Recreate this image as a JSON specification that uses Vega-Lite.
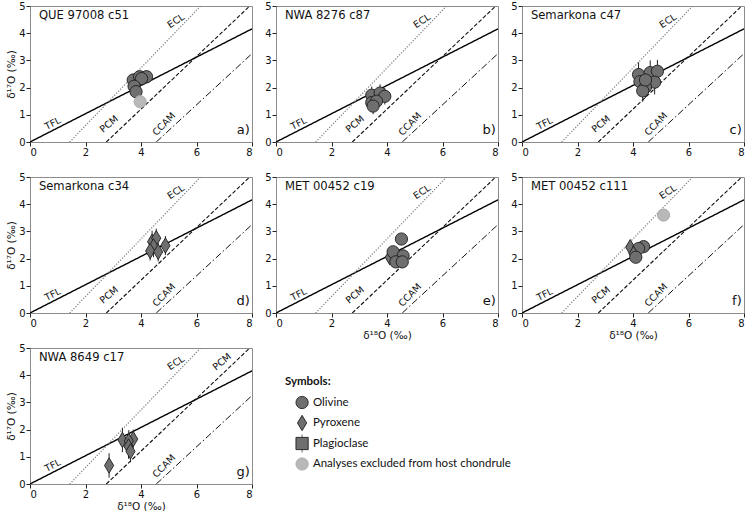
{
"$schema":"https://vega.github.io/schema/vega-lite/v6.json",
"background":"white",
"padding":{"left":6,"top":0,"right":2,"bottom":2},
"config":{
 "font":"DejaVu Sans",
 "view":{"stroke":"#8c8c8c","strokeWidth":1},
 "axis":{"grid":false,"domain":false,"tickColor":"#222","tickSize":4,"labelFontSize":10,"labelColor":"#111","labelFont":"DejaVu Sans","labelPadding":1,"titleFont":"DejaVu Sans","titleFontSize":10.5,"titleFontWeight":"normal","titleColor":"#111","titlePadding":2},
 "axisX":{"tickCount":4},
 "axisY":{"tickCount":5},
 "text":{"font":"DejaVu Sans","color":"#111"}
},
"datasets":{
 "one":[{"k":1}],
 "lines":[
  {"line":"TFL","x":0,"y":0},{"line":"TFL","x":8,"y":4.16},
  {"line":"ECL","x":1.43,"y":0},{"line":"ECL","x":6.15,"y":5},
  {"line":"PCM","x":2.75,"y":0},{"line":"PCM","x":7.92,"y":5},
  {"line":"CCAM","x":4.55,"y":0},{"line":"CCAM","x":8,"y":3.25}
 ],
 "labels":[
  {"line":"TFL","x":0.82,"y":0.68},{"line":"ECL","x":5.26,"y":4.45},{"line":"PCM","x":2.85,"y":0.66},{"line":"CCAM","x":4.83,"y":0.66}
 ],
 "labelsG":[
  {"line":"TFL","x":0.82,"y":0.68},{"line":"ECL","x":5.26,"y":4.45},{"line":"PCM","x":6.92,"y":4.49},{"line":"CCAM","x":4.83,"y":0.66}
 ],
 "pts":[
  {"p":"a","m":"Olivine","x":3.72,"y":2.28,"ey":0.12},
  {"p":"a","m":"Olivine","x":3.95,"y":2.4,"ey":0.12},
  {"p":"a","m":"Olivine","x":4.2,"y":2.4,"ey":0.12},
  {"p":"a","m":"Olivine","x":4.02,"y":2.33,"ey":0.12},
  {"p":"a","m":"Olivine","x":3.75,"y":2.05,"ey":0.12},
  {"p":"a","m":"Olivine","x":3.82,"y":1.85,"ey":0.12},
  {"p":"a","m":"Excluded","x":3.97,"y":1.48,"ey":0.1},
  {"p":"b","m":"Olivine","x":3.45,"y":1.72,"ey":0.32},
  {"p":"b","m":"Olivine","x":3.75,"y":1.8,"ey":0.32},
  {"p":"b","m":"Olivine","x":3.92,"y":1.68,"ey":0.3},
  {"p":"b","m":"Olivine","x":3.45,"y":1.45,"ey":0.3},
  {"p":"b","m":"Olivine","x":3.62,"y":1.5,"ey":0.3},
  {"p":"b","m":"Olivine","x":3.5,"y":1.32,"ey":0.3},
  {"p":"c","m":"Olivine","x":4.2,"y":2.48,"ey":0.45},
  {"p":"c","m":"Olivine","x":4.62,"y":2.55,"ey":0.45},
  {"p":"c","m":"Olivine","x":4.88,"y":2.6,"ey":0.42},
  {"p":"c","m":"Olivine","x":4.25,"y":2.22,"ey":0.4},
  {"p":"c","m":"Olivine","x":4.78,"y":2.2,"ey":0.45},
  {"p":"c","m":"Olivine","x":4.45,"y":2.02,"ey":0.4},
  {"p":"c","m":"Olivine","x":4.35,"y":1.88,"ey":0.4},
  {"p":"c","m":"Olivine","x":4.45,"y":2.28,"ey":0.4},
  {"p":"d","m":"Pyroxene","x":4.4,"y":2.62,"ey":0.4},
  {"p":"d","m":"Pyroxene","x":4.55,"y":2.75,"ey":0.35},
  {"p":"d","m":"Pyroxene","x":4.88,"y":2.48,"ey":0.35},
  {"p":"d","m":"Pyroxene","x":4.45,"y":2.45,"ey":0.4},
  {"p":"d","m":"Pyroxene","x":4.33,"y":2.28,"ey":0.35},
  {"p":"d","m":"Pyroxene","x":4.62,"y":2.25,"ey":0.35},
  {"p":"e","m":"Olivine","x":4.52,"y":2.72,"ey":0.12},
  {"p":"e","m":"Pyroxene","x":4.1,"y":2.05,"ey":0.12},
  {"p":"e","m":"Olivine","x":4.22,"y":2.25,"ey":0.12},
  {"p":"e","m":"Olivine","x":4.58,"y":2.1,"ey":0.12},
  {"p":"e","m":"Olivine","x":4.32,"y":1.88,"ey":0.12},
  {"p":"e","m":"Olivine","x":4.55,"y":1.88,"ey":0.12},
  {"p":"f","m":"Pyroxene","x":3.9,"y":2.42,"ey":0.12},
  {"p":"f","m":"Olivine","x":4.38,"y":2.44,"ey":0.12},
  {"p":"f","m":"Olivine","x":4.2,"y":2.37,"ey":0.12},
  {"p":"f","m":"Pyroxene","x":4.02,"y":2.18,"ey":0.12},
  {"p":"f","m":"Olivine","x":4.1,"y":2.05,"ey":0.12},
  {"p":"f","m":"Excluded","x":5.1,"y":3.6,"ey":0.1},
  {"p":"g","m":"Pyroxene","x":2.85,"y":0.68,"ey":0.45},
  {"p":"g","m":"Pyroxene","x":3.33,"y":1.62,"ey":0.45},
  {"p":"g","m":"Pyroxene","x":3.72,"y":1.65,"ey":0.35},
  {"p":"g","m":"Pyroxene","x":3.56,"y":1.58,"ey":0.4},
  {"p":"g","m":"Pyroxene","x":3.55,"y":1.38,"ey":0.45},
  {"p":"g","m":"Pyroxene","x":3.62,"y":1.2,"ey":0.4}
 ],
 "legend":[
  {"m":"Olivine","label":"Olivine"},
  {"m":"Pyroxene","label":"Pyroxene"},
  {"m":"Plagioclase","label":"Plagioclase"},
  {"m":"Excluded","label":"Analyses excluded from host chondrule"}
 ]
},
"columns":3,
"spacing":{"row":35,"column":24},
"bounds":"flush",
"concat":[
  {"width":222,"height":136,
   "layer":[
    {"data":{"name":"lines"},"mark":{"type":"line","clip":true},"encoding":{"x":{"field":"x","type":"quantitative","scale":{"domain":[0,8],"nice":false},"axis":{"tickCount":4,"title":null}},"y":{"field":"y","type":"quantitative","scale":{"domain":[0,5],"nice":false},"axis":{"tickCount":5,"title":"δ¹⁷O (‰)"}},"detail":{"field":"line","type":"nominal"},"color":{"field":"line","type":"nominal","scale":{"domain":["TFL","ECL","PCM","CCAM"],"range":["#000000","#808080","#111111","#111111"]},"legend":null},"strokeDash":{"field":"line","type":"nominal","scale":{"domain":["TFL","ECL","PCM","CCAM"],"range":[[1,0],[1.2,1.6],[4,2],[7,2.5,1.5,2.5]]},"legend":null},"strokeWidth":{"field":"line","type":"nominal","scale":{"domain":["TFL","ECL","PCM","CCAM"],"range":[1.4,1,1,1]},"legend":null}}},
    {"data":{"name":"labels"},"mark":{"type":"text","fontSize":9.5},"encoding":{"x":{"field":"x","type":"quantitative"},"y":{"field":"y","type":"quantitative"},"text":{"field":"line"},"angle":{"field":"line","type":"nominal","scale":{"domain":["TFL","ECL","PCM","CCAM"],"range":[333,314,316,317]},"legend":null}}},
    {"data":{"name":"one"},"mark":{"type":"text","fontSize":11.6,"align":"left"},"encoding":{"x":{"datum":0.32,"type":"quantitative"},"y":{"datum":4.65,"type":"quantitative"},"text":{"value":"QUE 97008 c51"}}},
    {"data":{"name":"one"},"mark":{"type":"text","fontSize":13,"align":"right"},"encoding":{"x":{"datum":7.92,"type":"quantitative"},"y":{"datum":0.45,"type":"quantitative"},"text":{"value":"a)"}}},
    {"data":{"name":"pts"},"transform":[{"filter":"datum.p==='a'"}],"mark":{"type":"errorbar","color":"#222","thickness":1},"encoding":{"x":{"field":"x","type":"quantitative","axis":{"tickCount":4,"title":null}},"y":{"field":"y","type":"quantitative","axis":{"tickCount":5,"title":"δ¹⁷O (‰)"}},"yError":{"field":"ey"}}},
    {"data":{"name":"pts"},"transform":[{"filter":"datum.p==='a'"}],"mark":{"type":"point","filled":true,"size":150,"strokeWidth":0.9,"opacity":1},"encoding":{"x":{"field":"x","type":"quantitative"},"y":{"field":"y","type":"quantitative"},"shape":{"field":"m","type":"nominal","scale":{"domain":["Olivine","Pyroxene","Plagioclase","Excluded"],"range":["circle","M0,-1.25L0.75,0L0,1.25L-0.75,0Z","square","circle"]},"legend":null},"fill":{"field":"m","type":"nominal","scale":{"domain":["Olivine","Pyroxene","Plagioclase","Excluded"],"range":["#6f6f6f","#6f6f6f","#6f6f6f","#b8b8b8"]},"legend":null},"stroke":{"field":"m","type":"nominal","scale":{"domain":["Olivine","Pyroxene","Plagioclase","Excluded"],"range":["#1e1e1e","#1e1e1e","#1e1e1e","#a8a8a8"]},"legend":null}}}
   ]},
  {"width":222,"height":136,
   "layer":[
    {"data":{"name":"lines"},"mark":{"type":"line","clip":true},"encoding":{"x":{"field":"x","type":"quantitative","scale":{"domain":[0,8],"nice":false},"axis":{"tickCount":4,"title":null}},"y":{"field":"y","type":"quantitative","scale":{"domain":[0,5],"nice":false},"axis":{"tickCount":5,"title":null}},"detail":{"field":"line","type":"nominal"},"color":{"field":"line","type":"nominal","scale":{"domain":["TFL","ECL","PCM","CCAM"],"range":["#000000","#808080","#111111","#111111"]},"legend":null},"strokeDash":{"field":"line","type":"nominal","scale":{"domain":["TFL","ECL","PCM","CCAM"],"range":[[1,0],[1.2,1.6],[4,2],[7,2.5,1.5,2.5]]},"legend":null},"strokeWidth":{"field":"line","type":"nominal","scale":{"domain":["TFL","ECL","PCM","CCAM"],"range":[1.4,1,1,1]},"legend":null}}},
    {"data":{"name":"labels"},"mark":{"type":"text","fontSize":9.5},"encoding":{"x":{"field":"x","type":"quantitative"},"y":{"field":"y","type":"quantitative"},"text":{"field":"line"},"angle":{"field":"line","type":"nominal","scale":{"domain":["TFL","ECL","PCM","CCAM"],"range":[333,314,316,317]},"legend":null}}},
    {"data":{"name":"one"},"mark":{"type":"text","fontSize":11.6,"align":"left"},"encoding":{"x":{"datum":0.32,"type":"quantitative"},"y":{"datum":4.65,"type":"quantitative"},"text":{"value":"NWA 8276 c87"}}},
    {"data":{"name":"one"},"mark":{"type":"text","fontSize":13,"align":"right"},"encoding":{"x":{"datum":7.92,"type":"quantitative"},"y":{"datum":0.45,"type":"quantitative"},"text":{"value":"b)"}}},
    {"data":{"name":"pts"},"transform":[{"filter":"datum.p==='b'"}],"mark":{"type":"errorbar","color":"#222","thickness":1},"encoding":{"x":{"field":"x","type":"quantitative","axis":{"tickCount":4,"title":null}},"y":{"field":"y","type":"quantitative","axis":{"tickCount":5,"title":null}},"yError":{"field":"ey"}}},
    {"data":{"name":"pts"},"transform":[{"filter":"datum.p==='b'"}],"mark":{"type":"point","filled":true,"size":150,"strokeWidth":0.9,"opacity":1},"encoding":{"x":{"field":"x","type":"quantitative"},"y":{"field":"y","type":"quantitative"},"shape":{"field":"m","type":"nominal","scale":{"domain":["Olivine","Pyroxene","Plagioclase","Excluded"],"range":["circle","M0,-1.25L0.75,0L0,1.25L-0.75,0Z","square","circle"]},"legend":null},"fill":{"field":"m","type":"nominal","scale":{"domain":["Olivine","Pyroxene","Plagioclase","Excluded"],"range":["#6f6f6f","#6f6f6f","#6f6f6f","#b8b8b8"]},"legend":null},"stroke":{"field":"m","type":"nominal","scale":{"domain":["Olivine","Pyroxene","Plagioclase","Excluded"],"range":["#1e1e1e","#1e1e1e","#1e1e1e","#a8a8a8"]},"legend":null}}}
   ]},
  {"width":222,"height":136,
   "layer":[
    {"data":{"name":"lines"},"mark":{"type":"line","clip":true},"encoding":{"x":{"field":"x","type":"quantitative","scale":{"domain":[0,8],"nice":false},"axis":{"tickCount":4,"title":null}},"y":{"field":"y","type":"quantitative","scale":{"domain":[0,5],"nice":false},"axis":{"tickCount":5,"title":null}},"detail":{"field":"line","type":"nominal"},"color":{"field":"line","type":"nominal","scale":{"domain":["TFL","ECL","PCM","CCAM"],"range":["#000000","#808080","#111111","#111111"]},"legend":null},"strokeDash":{"field":"line","type":"nominal","scale":{"domain":["TFL","ECL","PCM","CCAM"],"range":[[1,0],[1.2,1.6],[4,2],[7,2.5,1.5,2.5]]},"legend":null},"strokeWidth":{"field":"line","type":"nominal","scale":{"domain":["TFL","ECL","PCM","CCAM"],"range":[1.4,1,1,1]},"legend":null}}},
    {"data":{"name":"labels"},"mark":{"type":"text","fontSize":9.5},"encoding":{"x":{"field":"x","type":"quantitative"},"y":{"field":"y","type":"quantitative"},"text":{"field":"line"},"angle":{"field":"line","type":"nominal","scale":{"domain":["TFL","ECL","PCM","CCAM"],"range":[333,314,316,317]},"legend":null}}},
    {"data":{"name":"one"},"mark":{"type":"text","fontSize":11.6,"align":"left"},"encoding":{"x":{"datum":0.32,"type":"quantitative"},"y":{"datum":4.65,"type":"quantitative"},"text":{"value":"Semarkona c47"}}},
    {"data":{"name":"one"},"mark":{"type":"text","fontSize":13,"align":"right"},"encoding":{"x":{"datum":7.92,"type":"quantitative"},"y":{"datum":0.45,"type":"quantitative"},"text":{"value":"c)"}}},
    {"data":{"name":"pts"},"transform":[{"filter":"datum.p==='c'"}],"mark":{"type":"errorbar","color":"#222","thickness":1},"encoding":{"x":{"field":"x","type":"quantitative","axis":{"tickCount":4,"title":null}},"y":{"field":"y","type":"quantitative","axis":{"tickCount":5,"title":null}},"yError":{"field":"ey"}}},
    {"data":{"name":"pts"},"transform":[{"filter":"datum.p==='c'"}],"mark":{"type":"point","filled":true,"size":150,"strokeWidth":0.9,"opacity":1},"encoding":{"x":{"field":"x","type":"quantitative"},"y":{"field":"y","type":"quantitative"},"shape":{"field":"m","type":"nominal","scale":{"domain":["Olivine","Pyroxene","Plagioclase","Excluded"],"range":["circle","M0,-1.25L0.75,0L0,1.25L-0.75,0Z","square","circle"]},"legend":null},"fill":{"field":"m","type":"nominal","scale":{"domain":["Olivine","Pyroxene","Plagioclase","Excluded"],"range":["#6f6f6f","#6f6f6f","#6f6f6f","#b8b8b8"]},"legend":null},"stroke":{"field":"m","type":"nominal","scale":{"domain":["Olivine","Pyroxene","Plagioclase","Excluded"],"range":["#1e1e1e","#1e1e1e","#1e1e1e","#a8a8a8"]},"legend":null}}}
   ]},
  {"width":222,"height":136,
   "layer":[
    {"data":{"name":"lines"},"mark":{"type":"line","clip":true},"encoding":{"x":{"field":"x","type":"quantitative","scale":{"domain":[0,8],"nice":false},"axis":{"tickCount":4,"title":null}},"y":{"field":"y","type":"quantitative","scale":{"domain":[0,5],"nice":false},"axis":{"tickCount":5,"title":"δ¹⁷O (‰)"}},"detail":{"field":"line","type":"nominal"},"color":{"field":"line","type":"nominal","scale":{"domain":["TFL","ECL","PCM","CCAM"],"range":["#000000","#808080","#111111","#111111"]},"legend":null},"strokeDash":{"field":"line","type":"nominal","scale":{"domain":["TFL","ECL","PCM","CCAM"],"range":[[1,0],[1.2,1.6],[4,2],[7,2.5,1.5,2.5]]},"legend":null},"strokeWidth":{"field":"line","type":"nominal","scale":{"domain":["TFL","ECL","PCM","CCAM"],"range":[1.4,1,1,1]},"legend":null}}},
    {"data":{"name":"labels"},"mark":{"type":"text","fontSize":9.5},"encoding":{"x":{"field":"x","type":"quantitative"},"y":{"field":"y","type":"quantitative"},"text":{"field":"line"},"angle":{"field":"line","type":"nominal","scale":{"domain":["TFL","ECL","PCM","CCAM"],"range":[333,314,316,317]},"legend":null}}},
    {"data":{"name":"one"},"mark":{"type":"text","fontSize":11.6,"align":"left"},"encoding":{"x":{"datum":0.32,"type":"quantitative"},"y":{"datum":4.65,"type":"quantitative"},"text":{"value":"Semarkona c34"}}},
    {"data":{"name":"one"},"mark":{"type":"text","fontSize":13,"align":"right"},"encoding":{"x":{"datum":7.92,"type":"quantitative"},"y":{"datum":0.45,"type":"quantitative"},"text":{"value":"d)"}}},
    {"data":{"name":"pts"},"transform":[{"filter":"datum.p==='d'"}],"mark":{"type":"errorbar","color":"#222","thickness":1},"encoding":{"x":{"field":"x","type":"quantitative","axis":{"tickCount":4,"title":null}},"y":{"field":"y","type":"quantitative","axis":{"tickCount":5,"title":"δ¹⁷O (‰)"}},"yError":{"field":"ey"}}},
    {"data":{"name":"pts"},"transform":[{"filter":"datum.p==='d'"}],"mark":{"type":"point","filled":true,"size":150,"strokeWidth":0.9,"opacity":1},"encoding":{"x":{"field":"x","type":"quantitative"},"y":{"field":"y","type":"quantitative"},"shape":{"field":"m","type":"nominal","scale":{"domain":["Olivine","Pyroxene","Plagioclase","Excluded"],"range":["circle","M0,-1.25L0.75,0L0,1.25L-0.75,0Z","square","circle"]},"legend":null},"fill":{"field":"m","type":"nominal","scale":{"domain":["Olivine","Pyroxene","Plagioclase","Excluded"],"range":["#6f6f6f","#6f6f6f","#6f6f6f","#b8b8b8"]},"legend":null},"stroke":{"field":"m","type":"nominal","scale":{"domain":["Olivine","Pyroxene","Plagioclase","Excluded"],"range":["#1e1e1e","#1e1e1e","#1e1e1e","#a8a8a8"]},"legend":null}}}
   ]},
  {"width":222,"height":136,
   "layer":[
    {"data":{"name":"lines"},"mark":{"type":"line","clip":true},"encoding":{"x":{"field":"x","type":"quantitative","scale":{"domain":[0,8],"nice":false},"axis":{"tickCount":4,"title":"δ¹⁸O (‰)"}},"y":{"field":"y","type":"quantitative","scale":{"domain":[0,5],"nice":false},"axis":{"tickCount":5,"title":null}},"detail":{"field":"line","type":"nominal"},"color":{"field":"line","type":"nominal","scale":{"domain":["TFL","ECL","PCM","CCAM"],"range":["#000000","#808080","#111111","#111111"]},"legend":null},"strokeDash":{"field":"line","type":"nominal","scale":{"domain":["TFL","ECL","PCM","CCAM"],"range":[[1,0],[1.2,1.6],[4,2],[7,2.5,1.5,2.5]]},"legend":null},"strokeWidth":{"field":"line","type":"nominal","scale":{"domain":["TFL","ECL","PCM","CCAM"],"range":[1.4,1,1,1]},"legend":null}}},
    {"data":{"name":"labels"},"mark":{"type":"text","fontSize":9.5},"encoding":{"x":{"field":"x","type":"quantitative"},"y":{"field":"y","type":"quantitative"},"text":{"field":"line"},"angle":{"field":"line","type":"nominal","scale":{"domain":["TFL","ECL","PCM","CCAM"],"range":[333,314,316,317]},"legend":null}}},
    {"data":{"name":"one"},"mark":{"type":"text","fontSize":11.6,"align":"left"},"encoding":{"x":{"datum":0.32,"type":"quantitative"},"y":{"datum":4.65,"type":"quantitative"},"text":{"value":"MET 00452 c19"}}},
    {"data":{"name":"one"},"mark":{"type":"text","fontSize":13,"align":"right"},"encoding":{"x":{"datum":7.92,"type":"quantitative"},"y":{"datum":0.45,"type":"quantitative"},"text":{"value":"e)"}}},
    {"data":{"name":"pts"},"transform":[{"filter":"datum.p==='e'"}],"mark":{"type":"errorbar","color":"#222","thickness":1},"encoding":{"x":{"field":"x","type":"quantitative","axis":{"tickCount":4,"title":"δ¹⁸O (‰)"}},"y":{"field":"y","type":"quantitative","axis":{"tickCount":5,"title":null}},"yError":{"field":"ey"}}},
    {"data":{"name":"pts"},"transform":[{"filter":"datum.p==='e'"}],"mark":{"type":"point","filled":true,"size":150,"strokeWidth":0.9,"opacity":1},"encoding":{"x":{"field":"x","type":"quantitative"},"y":{"field":"y","type":"quantitative"},"shape":{"field":"m","type":"nominal","scale":{"domain":["Olivine","Pyroxene","Plagioclase","Excluded"],"range":["circle","M0,-1.25L0.75,0L0,1.25L-0.75,0Z","square","circle"]},"legend":null},"fill":{"field":"m","type":"nominal","scale":{"domain":["Olivine","Pyroxene","Plagioclase","Excluded"],"range":["#6f6f6f","#6f6f6f","#6f6f6f","#b8b8b8"]},"legend":null},"stroke":{"field":"m","type":"nominal","scale":{"domain":["Olivine","Pyroxene","Plagioclase","Excluded"],"range":["#1e1e1e","#1e1e1e","#1e1e1e","#a8a8a8"]},"legend":null}}}
   ]},
  {"width":222,"height":136,
   "layer":[
    {"data":{"name":"lines"},"mark":{"type":"line","clip":true},"encoding":{"x":{"field":"x","type":"quantitative","scale":{"domain":[0,8],"nice":false},"axis":{"tickCount":4,"title":"δ¹⁸O (‰)"}},"y":{"field":"y","type":"quantitative","scale":{"domain":[0,5],"nice":false},"axis":{"tickCount":5,"title":null}},"detail":{"field":"line","type":"nominal"},"color":{"field":"line","type":"nominal","scale":{"domain":["TFL","ECL","PCM","CCAM"],"range":["#000000","#808080","#111111","#111111"]},"legend":null},"strokeDash":{"field":"line","type":"nominal","scale":{"domain":["TFL","ECL","PCM","CCAM"],"range":[[1,0],[1.2,1.6],[4,2],[7,2.5,1.5,2.5]]},"legend":null},"strokeWidth":{"field":"line","type":"nominal","scale":{"domain":["TFL","ECL","PCM","CCAM"],"range":[1.4,1,1,1]},"legend":null}}},
    {"data":{"name":"labels"},"mark":{"type":"text","fontSize":9.5},"encoding":{"x":{"field":"x","type":"quantitative"},"y":{"field":"y","type":"quantitative"},"text":{"field":"line"},"angle":{"field":"line","type":"nominal","scale":{"domain":["TFL","ECL","PCM","CCAM"],"range":[333,314,316,317]},"legend":null}}},
    {"data":{"name":"one"},"mark":{"type":"text","fontSize":11.6,"align":"left"},"encoding":{"x":{"datum":0.32,"type":"quantitative"},"y":{"datum":4.65,"type":"quantitative"},"text":{"value":"MET 00452 c111"}}},
    {"data":{"name":"one"},"mark":{"type":"text","fontSize":13,"align":"right"},"encoding":{"x":{"datum":7.92,"type":"quantitative"},"y":{"datum":0.45,"type":"quantitative"},"text":{"value":"f)"}}},
    {"data":{"name":"pts"},"transform":[{"filter":"datum.p==='f'"}],"mark":{"type":"errorbar","color":"#222","thickness":1},"encoding":{"x":{"field":"x","type":"quantitative","axis":{"tickCount":4,"title":"δ¹⁸O (‰)"}},"y":{"field":"y","type":"quantitative","axis":{"tickCount":5,"title":null}},"yError":{"field":"ey"}}},
    {"data":{"name":"pts"},"transform":[{"filter":"datum.p==='f'"}],"mark":{"type":"point","filled":true,"size":150,"strokeWidth":0.9,"opacity":1},"encoding":{"x":{"field":"x","type":"quantitative"},"y":{"field":"y","type":"quantitative"},"shape":{"field":"m","type":"nominal","scale":{"domain":["Olivine","Pyroxene","Plagioclase","Excluded"],"range":["circle","M0,-1.25L0.75,0L0,1.25L-0.75,0Z","square","circle"]},"legend":null},"fill":{"field":"m","type":"nominal","scale":{"domain":["Olivine","Pyroxene","Plagioclase","Excluded"],"range":["#6f6f6f","#6f6f6f","#6f6f6f","#b8b8b8"]},"legend":null},"stroke":{"field":"m","type":"nominal","scale":{"domain":["Olivine","Pyroxene","Plagioclase","Excluded"],"range":["#1e1e1e","#1e1e1e","#1e1e1e","#a8a8a8"]},"legend":null}}}
   ]},
  {"width":222,"height":136,
   "layer":[
    {"data":{"name":"lines"},"mark":{"type":"line","clip":true},"encoding":{"x":{"field":"x","type":"quantitative","scale":{"domain":[0,8],"nice":false},"axis":{"tickCount":4,"title":"δ¹⁸O (‰)"}},"y":{"field":"y","type":"quantitative","scale":{"domain":[0,5],"nice":false},"axis":{"tickCount":5,"title":"δ¹⁷O (‰)"}},"detail":{"field":"line","type":"nominal"},"color":{"field":"line","type":"nominal","scale":{"domain":["TFL","ECL","PCM","CCAM"],"range":["#000000","#808080","#111111","#111111"]},"legend":null},"strokeDash":{"field":"line","type":"nominal","scale":{"domain":["TFL","ECL","PCM","CCAM"],"range":[[1,0],[1.2,1.6],[4,2],[7,2.5,1.5,2.5]]},"legend":null},"strokeWidth":{"field":"line","type":"nominal","scale":{"domain":["TFL","ECL","PCM","CCAM"],"range":[1.4,1,1,1]},"legend":null}}},
    {"data":{"name":"labelsG"},"mark":{"type":"text","fontSize":9.5},"encoding":{"x":{"field":"x","type":"quantitative"},"y":{"field":"y","type":"quantitative"},"text":{"field":"line"},"angle":{"field":"line","type":"nominal","scale":{"domain":["TFL","ECL","PCM","CCAM"],"range":[333,314,316,317]},"legend":null}}},
    {"data":{"name":"one"},"mark":{"type":"text","fontSize":11.6,"align":"left"},"encoding":{"x":{"datum":0.32,"type":"quantitative"},"y":{"datum":4.65,"type":"quantitative"},"text":{"value":"NWA 8649 c17"}}},
    {"data":{"name":"one"},"mark":{"type":"text","fontSize":13,"align":"right"},"encoding":{"x":{"datum":7.92,"type":"quantitative"},"y":{"datum":0.45,"type":"quantitative"},"text":{"value":"g)"}}},
    {"data":{"name":"pts"},"transform":[{"filter":"datum.p==='g'"}],"mark":{"type":"errorbar","color":"#222","thickness":1},"encoding":{"x":{"field":"x","type":"quantitative","axis":{"tickCount":4,"title":"δ¹⁸O (‰)"}},"y":{"field":"y","type":"quantitative","axis":{"tickCount":5,"title":"δ¹⁷O (‰)"}},"yError":{"field":"ey"}}},
    {"data":{"name":"pts"},"transform":[{"filter":"datum.p==='g'"}],"mark":{"type":"point","filled":true,"size":150,"strokeWidth":0.9,"opacity":1},"encoding":{"x":{"field":"x","type":"quantitative"},"y":{"field":"y","type":"quantitative"},"shape":{"field":"m","type":"nominal","scale":{"domain":["Olivine","Pyroxene","Plagioclase","Excluded"],"range":["circle","M0,-1.25L0.75,0L0,1.25L-0.75,0Z","square","circle"]},"legend":null},"fill":{"field":"m","type":"nominal","scale":{"domain":["Olivine","Pyroxene","Plagioclase","Excluded"],"range":["#6f6f6f","#6f6f6f","#6f6f6f","#b8b8b8"]},"legend":null},"stroke":{"field":"m","type":"nominal","scale":{"domain":["Olivine","Pyroxene","Plagioclase","Excluded"],"range":["#1e1e1e","#1e1e1e","#1e1e1e","#a8a8a8"]},"legend":null}}}
   ]},
  {"width":222,"height":136,"view":{"stroke":null},
   "layer":[
    {"data":{"name":"one"},"mark":{"type":"text","align":"left","font":"Lato","fontSize":11.5,"fontWeight":"bold"},"encoding":{"x":{"datum":0.32,"type":"quantitative","scale":{"domain":[0,8]},"axis":null},"y":{"datum":"Symbols:","type":"nominal","scale":{"type":"point","domain":["Symbols:","Olivine","Pyroxene","Plagioclase","Analyses excluded from host chondrule"],"range":[34,116],"padding":0},"axis":null},"text":{"value":"Symbols:"}}},
    {"data":{"name":"legend"},"transform":[{"filter":"datum.m==='Plagioclase'"}],"mark":{"type":"tick","orient":"vertical","size":18,"thickness":1,"color":"#222"},"encoding":{"x":{"datum":0.94,"type":"quantitative"},"y":{"field":"label","type":"nominal"}}},
    {"data":{"name":"legend"},"mark":{"type":"point","filled":true,"size":150,"strokeWidth":0.9,"opacity":1},"encoding":{"x":{"datum":0.94,"type":"quantitative"},"y":{"field":"label","type":"nominal"},"shape":{"field":"m","type":"nominal","scale":{"domain":["Olivine","Pyroxene","Plagioclase","Excluded"],"range":["circle","M0,-1.25L0.75,0L0,1.25L-0.75,0Z","square","circle"]},"legend":null},"fill":{"field":"m","type":"nominal","scale":{"domain":["Olivine","Pyroxene","Plagioclase","Excluded"],"range":["#6f6f6f","#6f6f6f","#6f6f6f","#b8b8b8"]},"legend":null},"stroke":{"field":"m","type":"nominal","scale":{"domain":["Olivine","Pyroxene","Plagioclase","Excluded"],"range":["#1e1e1e","#1e1e1e","#1e1e1e","#a8a8a8"]},"legend":null}}},
    {"data":{"name":"legend"},"mark":{"type":"text","align":"left","font":"Lato","fontSize":11.5},"encoding":{"x":{"datum":1.33,"type":"quantitative"},"y":{"field":"label","type":"nominal"},"text":{"field":"label"}}}
   ]}
]
}
